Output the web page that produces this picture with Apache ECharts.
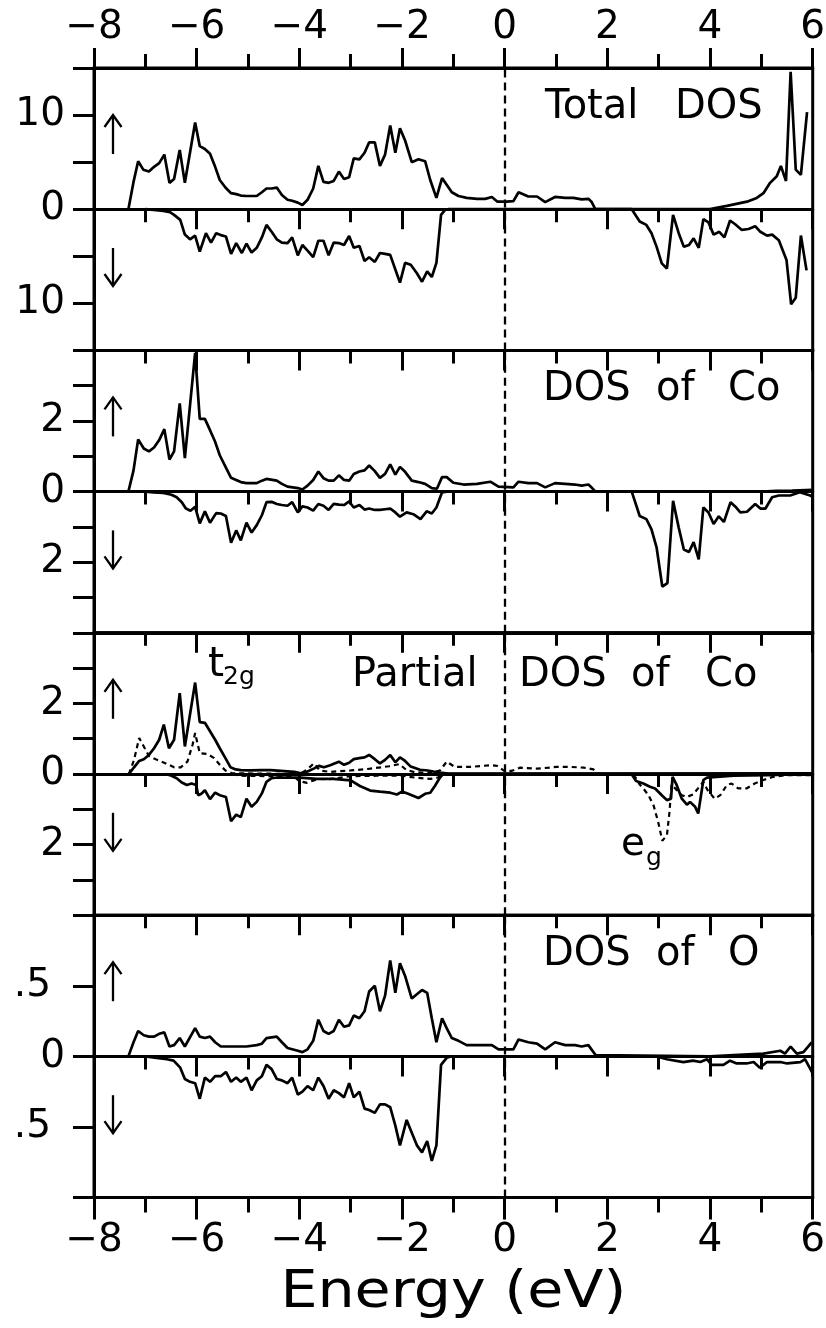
<!DOCTYPE html>
<html><head><meta charset="utf-8">
<script src="https://cdn.jsdelivr.net/npm/echarts/dist/echarts.min.js"></script>
<style>html,body{margin:0;padding:0;background:#fff}#c{width:826px;height:1328px}</style>
</head><body><div id="c"></div><script>
// ---------------- data (energy in eV, DOS values; spin-down stored negative) ----------------
const totalUp = [[-7.33,0],[-7.23,2.9],[-7.14,5.1],[-7.04,4.2],[-6.93,4.0],[-6.83,4.5],[-6.73,4.9],[-6.63,5.8],[-6.53,2.8],[-6.44,3.2],[-6.33,6.3],[-6.23,2.8],[-6.03,9.2],[-5.94,6.7],[-5.84,6.4],[-5.74,5.9],[-5.64,4.5],[-5.55,3.1],[-5.44,2.3],[-5.33,1.7],[-5.23,1.6],[-5.14,1.45],[-5.03,1.4],[-4.83,1.4],[-4.73,1.8],[-4.64,2.2],[-4.54,2.2],[-4.44,2.3],[-4.34,1.5],[-4.23,1.0],[-4.14,0.9],[-4.03,0.7],[-3.94,0.45],[-3.84,1.0],[-3.73,2.2],[-3.63,4.6],[-3.53,2.9],[-3.43,2.8],[-3.33,3.0],[-3.23,4.0],[-3.13,3.2],[-3.03,3.4],[-2.94,5.4],[-2.83,5.3],[-2.73,6.0],[-2.64,7.1],[-2.53,7.1],[-2.43,4.6],[-2.33,5.8],[-2.23,8.9],[-2.13,6.0],[-2.04,8.6],[-1.94,7.3],[-1.81,5.0],[-1.68,5.3],[-1.55,5.1],[-1.45,3.1],[-1.33,1.2],[-1.22,3.3],[-1.13,2.6],[-1.03,1.8],[-0.90,1.4],[-0.74,1.2],[-0.54,1.1],[-0.38,1.1],[-0.25,1.3],[-0.14,0.8],[0.04,0.8],[0.17,0.85],[0.27,1.8],[0.46,1.35],[0.63,1.35],[0.79,0.75],[0.98,1.3],[1.18,1.2],[1.34,1.2],[1.50,1.05],[1.63,1.1],[1.69,0.8],[1.76,0.05],[1.8,0],[4.0,0],[4.33,0.35],[4.72,0.8],[4.91,1.2],[5.04,1.7],[5.17,2.8],[5.30,3.5],[5.38,4.6],[5.48,3.0],[5.57,14.6],[5.67,4.2],[5.77,3.65],[5.89,10.3]];
const totalDown = [[-7.0,0],[-6.84,-0.07],[-6.65,-0.18],[-6.52,-0.32],[-6.44,-0.6],[-6.32,-1.13],[-6.23,-2.7],[-6.13,-3.2],[-6.03,-2.8],[-5.94,-4.5],[-5.82,-2.55],[-5.72,-3.55],[-5.62,-2.55],[-5.53,-2.75],[-5.43,-2.9],[-5.33,-4.75],[-5.23,-3.6],[-5.12,-4.65],[-5.03,-3.65],[-4.93,-4.6],[-4.83,-4.1],[-4.73,-3.0],[-4.64,-1.67],[-4.54,-2.4],[-4.44,-3.2],[-4.34,-3.55],[-4.23,-3.6],[-4.14,-3.0],[-4.03,-4.9],[-3.94,-3.8],[-3.84,-4.4],[-3.73,-5.1],[-3.63,-3.35],[-3.53,-3.35],[-3.43,-4.9],[-3.33,-3.55],[-3.23,-3.6],[-3.13,-3.8],[-3.03,-2.85],[-2.94,-4.1],[-2.83,-3.9],[-2.73,-5.5],[-2.64,-5.1],[-2.53,-5.6],[-2.43,-4.65],[-2.33,-4.75],[-2.23,-4.85],[-2.13,-6.4],[-2.04,-7.8],[-1.94,-5.7],[-1.83,-5.9],[-1.71,-6.8],[-1.61,-7.7],[-1.51,-6.6],[-1.42,-7.2],[-1.33,-5.7],[-1.24,-0.6],[-1.16,-0.07],[-1.09,0],[2.475,0],[2.63,-1.3],[2.76,-1.67],[2.86,-2.55],[2.96,-4.0],[3.06,-5.75],[3.16,-6.3],[3.28,-0.6],[3.39,-2.55],[3.49,-4.0],[3.59,-3.8],[3.68,-3.1],[3.78,-4.1],[3.87,-1.06],[3.97,-1.4],[4.07,-2.7],[4.18,-2.4],[4.28,-3.0],[4.39,-1.2],[4.49,-1.6],[4.62,-2.2],[4.75,-2.1],[4.88,-1.8],[4.98,-2.4],[5.11,-2.8],[5.21,-2.7],[5.34,-3.3],[5.49,-5.4],[5.58,-10.1],[5.67,-9.4],[5.77,-2.8],[5.88,-6.5]];

const coUp = [[-7.33,0],[-7.23,0.6],[-7.14,1.48],[-7.03,1.22],[-6.93,1.14],[-6.83,1.25],[-6.73,1.46],[-6.63,1.77],[-6.53,0.91],[-6.44,1.14],[-6.33,2.5],[-6.23,0.95],[-6.03,3.93],[-5.94,2.06],[-5.84,2.06],[-5.74,1.74],[-5.64,1.41],[-5.55,1.03],[-5.44,0.71],[-5.33,0.39],[-5.23,0.33],[-5.14,0.27],[-5.03,0.24],[-4.83,0.24],[-4.73,0.31],[-4.64,0.36],[-4.44,0.31],[-4.34,0.22],[-4.23,0.14],[-4.03,0.1],[-3.94,0.06],[-3.84,0.17],[-3.73,0.33],[-3.63,0.57],[-3.53,0.38],[-3.43,0.31],[-3.33,0.31],[-3.23,0.46],[-3.13,0.33],[-3.03,0.31],[-2.94,0.5],[-2.83,0.57],[-2.73,0.6],[-2.64,0.74],[-2.53,0.58],[-2.43,0.39],[-2.33,0.5],[-2.23,0.77],[-2.13,0.48],[-2.04,0.7],[-1.94,0.56],[-1.81,0.31],[-1.68,0.27],[-1.55,0.22],[-1.42,0.1],[-1.32,0.08],[-1.22,0.41],[-1.13,0.41],[-1.0,0.25],[-0.80,0.2],[-0.54,0.22],[-0.28,0.28],[-0.12,0.14],[0.17,0.12],[0.27,0.28],[0.46,0.24],[0.63,0.24],[0.79,0.12],[0.98,0.24],[1.18,0.22],[1.37,0.2],[1.50,0.17],[1.63,0.2],[1.69,0.12],[1.77,0],[5.0,0],[5.3,0.02],[5.6,0.03],[6.0,0.05]];
const coDown = [[-7.0,0],[-6.84,-0.02],[-6.65,-0.04],[-6.49,-0.09],[-6.39,-0.16],[-6.29,-0.3],[-6.21,-0.48],[-6.12,-0.54],[-6.03,-0.43],[-5.94,-0.9],[-5.84,-0.56],[-5.74,-0.88],[-5.62,-0.61],[-5.53,-0.62],[-5.43,-0.69],[-5.33,-1.45],[-5.23,-1.1],[-5.14,-1.38],[-5.03,-0.88],[-4.93,-1.16],[-4.83,-0.95],[-4.73,-0.67],[-4.64,-0.3],[-4.54,-0.29],[-4.44,-0.35],[-4.34,-0.38],[-4.23,-0.4],[-4.14,-0.3],[-4.03,-0.59],[-3.94,-0.42],[-3.84,-0.45],[-3.73,-0.54],[-3.63,-0.35],[-3.53,-0.4],[-3.43,-0.52],[-3.33,-0.35],[-3.23,-0.37],[-3.13,-0.38],[-3.03,-0.28],[-2.94,-0.45],[-2.83,-0.38],[-2.73,-0.51],[-2.64,-0.48],[-2.53,-0.52],[-2.43,-0.52],[-2.33,-0.5],[-2.23,-0.48],[-2.13,-0.59],[-2.04,-0.71],[-1.91,-0.59],[-1.78,-0.64],[-1.64,-0.78],[-1.52,-0.56],[-1.42,-0.62],[-1.33,-0.45],[-1.22,-0.02],[-1.13,0],[2.475,0],[2.63,-0.69],[2.76,-0.78],[2.86,-1.07],[2.96,-1.59],[3.07,-2.69],[3.17,-2.59],[3.28,-0.26],[3.39,-1.02],[3.49,-1.64],[3.59,-1.71],[3.68,-1.43],[3.78,-1.92],[3.87,-0.45],[3.97,-0.59],[4.07,-0.92],[4.17,-0.7],[4.27,-0.86],[4.40,-0.3],[4.49,-0.42],[4.59,-0.59],[4.72,-0.57],[4.88,-0.35],[4.98,-0.48],[5.08,-0.48],[5.21,-0.16],[5.34,-0.11],[5.56,-0.11],[5.75,-0.02],[5.95,-0.11],[6.0,-0.16]];

const t2gUp = [[-7.32,0],[-7.22,0.19],[-7.12,0.37],[-7.03,0.42],[-6.93,0.54],[-6.83,0.73],[-6.73,0.97],[-6.64,1.4],[-6.54,0.73],[-6.44,0.97],[-6.33,2.29],[-6.23,0.78],[-6.03,2.59],[-5.94,1.47],[-5.84,1.45],[-5.74,1.21],[-5.64,0.97],[-5.55,0.73],[-5.44,0.45],[-5.34,0.19],[-5.24,0.13],[-5.14,0.11],[-4.95,0.1],[-4.75,0.11],[-4.56,0.11],[-4.36,0.09],[-4.1,0.06],[-3.97,0.02],[-3.84,0.07],[-3.71,0.16],[-3.62,0.23],[-3.52,0.19],[-3.40,0.25],[-3.23,0.35],[-3.13,0.26],[-3.03,0.32],[-2.94,0.42],[-2.83,0.45],[-2.73,0.47],[-2.64,0.54],[-2.53,0.42],[-2.43,0.3],[-2.33,0.4],[-2.23,0.54],[-2.13,0.33],[-2.04,0.47],[-1.94,0.37],[-1.83,0.21],[-1.65,0.12],[-1.5,0.1],[-1.39,0.07],[-1.26,0.04],[-1.1,0.01],[6.0,0.02]];
const egUp = [[-7.32,0],[-7.22,0.4],[-7.12,1.02],[-7.03,0.78],[-6.93,0.51],[-6.77,0.4],[-6.6,0.3],[-6.44,0.19],[-6.31,0.19],[-6.18,0.35],[-6.08,0.83],[-6.03,1.16],[-5.94,0.59],[-5.79,0.57],[-5.66,0.45],[-5.55,0.26],[-5.44,0.1],[-5.31,0.02],[-4.0,0.0],[-3.85,0.12],[-3.72,0.3],[-3.6,0.1],[-3.4,0.06],[-3.0,0.1],[-2.62,0.15],[-2.25,0.22],[-2.05,0.28],[-1.92,0.12],[-1.75,0.05],[-1.45,0.03],[-1.26,0.1],[-1.13,0.35],[-0.97,0.2],[-0.67,0.2],[-0.28,0.25],[-0.15,0.23],[-0.01,0.09],[0.14,0.09],[0.30,0.18],[0.63,0.15],[1.01,0.2],[1.28,0.2],[1.54,0.18],[1.73,0.13],[1.80,0.02],[1.9,0]];
const t2gDown = [[-6.6,0],[-6.49,-0.05],[-6.39,-0.12],[-6.29,-0.24],[-6.19,-0.31],[-6.10,-0.27],[-6.01,-0.31],[-5.97,-0.6],[-5.90,-0.55],[-5.84,-0.46],[-5.74,-0.71],[-5.64,-0.53],[-5.55,-0.6],[-5.43,-0.65],[-5.33,-1.34],[-5.23,-1.15],[-5.14,-1.22],[-5.03,-0.7],[-4.93,-0.93],[-4.83,-0.79],[-4.73,-0.55],[-4.64,-0.22],[-4.54,-0.12],[-4.44,-0.1],[-4.23,-0.1],[-3.99,-0.1],[-3.66,-0.14],[-3.34,-0.14],[-3.0,-0.18],[-2.82,-0.34],[-2.62,-0.47],[-2.43,-0.5],[-2.23,-0.53],[-2.10,-0.58],[-2.0,-0.5],[-1.88,-0.56],[-1.68,-0.68],[-1.55,-0.56],[-1.45,-0.53],[-1.36,-0.34],[-1.26,-0.1],[-1.2,0],[2.47,0],[2.56,-0.2],[2.70,-0.27],[2.83,-0.36],[2.93,-0.41],[3.06,-0.6],[3.16,-0.74],[3.24,-0.7],[3.27,-0.08],[3.35,-0.31],[3.45,-0.7],[3.55,-0.87],[3.61,-0.79],[3.71,-0.93],[3.77,-1.12],[3.87,-0.17],[3.94,-0.1],[4.13,-0.08],[4.46,-0.05],[5.11,-0.03],[6.0,0]];
const egDown = [[-5.3,0],[-5.14,-0.05],[-4.6,-0.06],[-4.12,-0.06],[-4.0,-0.2],[-3.85,-0.25],[-3.72,-0.18],[-3.63,-0.14],[-3.44,-0.15],[-3.27,-0.12],[-3.01,-0.06],[-2.5,-0.05],[-2.0,-0.05],[-1.75,-0.1],[-1.45,-0.14],[-1.3,-0.1],[-1.2,0],[2.45,0],[2.55,-0.1],[2.63,-0.3],[2.70,-0.41],[2.80,-0.6],[2.90,-0.89],[2.99,-1.36],[3.07,-1.89],[3.16,-1.74],[3.21,-1.08],[3.25,-0.3],[3.35,-0.45],[3.45,-0.6],[3.55,-0.65],[3.67,-0.58],[3.77,-0.4],[3.87,-0.22],[3.95,-0.45],[4.09,-0.7],[4.2,-0.6],[4.33,-0.31],[4.42,-0.27],[4.55,-0.41],[4.71,-0.41],[4.87,-0.27],[5.04,-0.17],[5.23,-0.08],[5.49,-0.03],[6.0,-0.03]];

const oUp = [[-7.33,0],[-7.23,0.1],[-7.14,0.18],[-7.03,0.15],[-6.93,0.14],[-6.83,0.14],[-6.73,0.16],[-6.63,0.17],[-6.53,0.07],[-6.44,0.08],[-6.33,0.13],[-6.23,0.07],[-6.03,0.2],[-5.94,0.14],[-5.84,0.13],[-5.74,0.14],[-5.64,0.1],[-5.53,0.07],[-5.03,0.07],[-4.83,0.08],[-4.73,0.09],[-4.64,0.13],[-4.44,0.14],[-4.34,0.1],[-4.23,0.06],[-4.03,0.04],[-3.94,0.03],[-3.84,0.05],[-3.73,0.11],[-3.63,0.26],[-3.53,0.18],[-3.43,0.16],[-3.33,0.18],[-3.23,0.26],[-3.13,0.21],[-3.03,0.22],[-2.94,0.29],[-2.83,0.27],[-2.73,0.32],[-2.64,0.46],[-2.53,0.5],[-2.43,0.32],[-2.33,0.43],[-2.23,0.68],[-2.13,0.45],[-2.04,0.66],[-1.94,0.57],[-1.81,0.41],[-1.61,0.47],[-1.51,0.45],[-1.42,0.27],[-1.33,0.1],[-1.22,0.27],[-1.13,0.2],[-1.03,0.13],[-0.90,0.11],[-0.74,0.08],[-0.25,0.08],[-0.12,0.05],[0.17,0.05],[0.27,0.12],[0.46,0.1],[0.63,0.09],[0.79,0.05],[0.98,0.1],[1.18,0.08],[1.37,0.08],[1.50,0.07],[1.63,0.08],[1.77,0.01],[1.8,0],[4.0,0],[4.46,0.01],[5.04,0.02],[5.37,0.04],[5.46,0.02],[5.57,0.07],[5.69,0.02],[5.82,0.03],[5.98,0.1]];
const oDown = [[-7.0,0],[-6.78,-0.01],[-6.58,-0.02],[-6.45,-0.03],[-6.32,-0.08],[-6.23,-0.16],[-6.13,-0.18],[-6.03,-0.19],[-5.94,-0.3],[-5.84,-0.15],[-5.74,-0.18],[-5.64,-0.14],[-5.53,-0.14],[-5.43,-0.11],[-5.33,-0.18],[-5.23,-0.15],[-5.14,-0.18],[-5.03,-0.15],[-4.93,-0.24],[-4.83,-0.17],[-4.73,-0.14],[-4.64,-0.06],[-4.54,-0.09],[-4.44,-0.16],[-4.34,-0.17],[-4.23,-0.19],[-4.14,-0.15],[-4.03,-0.27],[-3.94,-0.25],[-3.84,-0.21],[-3.73,-0.24],[-3.63,-0.15],[-3.53,-0.21],[-3.43,-0.3],[-3.33,-0.24],[-3.23,-0.26],[-3.13,-0.29],[-3.03,-0.19],[-2.94,-0.29],[-2.83,-0.25],[-2.73,-0.37],[-2.64,-0.38],[-2.53,-0.4],[-2.43,-0.34],[-2.33,-0.34],[-2.23,-0.36],[-2.13,-0.49],[-2.04,-0.63],[-1.91,-0.45],[-1.81,-0.54],[-1.71,-0.63],[-1.61,-0.68],[-1.51,-0.6],[-1.42,-0.74],[-1.33,-0.63],[-1.24,-0.06],[-1.13,-0.01],[-1.05,0],[2.96,0],[3.16,-0.02],[3.48,-0.04],[3.67,-0.03],[3.81,-0.04],[3.94,-0.02],[4.03,-0.06],[4.26,-0.06],[4.39,-0.03],[4.52,-0.05],[4.71,-0.05],[4.85,-0.04],[4.97,-0.08],[5.11,-0.04],[5.37,-0.04],[5.5,-0.05],[5.76,-0.04],[5.85,-0.02],[6.0,-0.12]];

// ---------------- texts and axis settings ----------------
const panelTitles = [['Total','DOS'],['DOS','of','Co'],['Partial','DOS','of','Co'],['DOS','of','O']];
const yRange = [15, 4, 4, 1];
const yStep = [5, 1, 1, 0.5];
const yLabelValue = [10, 2, 2, 0.5];
const yLabelText = ['10', '2', '2', '.5'];
const xRange = [-8, 6];
const xStep = 2;
const xAxisName = 'Energy (eV)';

// ---------------- layout ----------------
const FONT = 'DejaVu Sans';
const L = 94, W = 718.7, T0 = 68, PH = 282.4;
const titleX = [[545,675],[543,656,728],[352,519,631,705],[543,656,728]];
const titleDY = [39.5,39,43,39];
const BLACK = '#000';
const TICKFONT = 39;

const panelSeries = [
  [{d: totalUp}, {d: totalDown}],
  [{d: coUp}, {d: coDown}],
  [{d: t2gUp}, {d: egUp, dash: true}, {d: t2gDown}, {d: egDown, dash: true}],
  [{d: oUp}, {d: oDown}]
];

const fmtX = v => (v < 0 ? '\u2212' : '') + Math.abs(v);
const lineSt = w => ({color: BLACK, width: w});

const grids = [], xAxes = [], yAxes = [], series = [], graphics = [];
panelSeries.forEach((ps, i) => {
  const top = T0 + i * PH;
  grids.push({left: L, top: top, width: W, height: PH, show: true, borderColor: BLACK, borderWidth: 3,
              backgroundColor: 'transparent', containLabel: false, outerBoundsMode: 'none'});
  const base = {gridIndex: i, type: 'value', min: xRange[0], max: xRange[1], interval: xStep,
                splitLine: {show: false}, minorSplitLine: {show: false}};
  // axis along y = 0 (ticks pointing down)
  const zeroIdx = xAxes.length;
  xAxes.push(Object.assign({}, base, {position: 'bottom',
    axisLine: {show: true, onZero: true, lineStyle: lineSt(3)},
    axisTick: {show: true, inside: false, length: 20, lineStyle: lineSt(3)},
    minorTick: {show: true, splitNumber: 2, length: 13, lineStyle: lineSt(3)},
    axisLabel: {show: false}}));
  // top border axis
  xAxes.push(Object.assign({}, base, {position: 'top',
    axisLine: {show: true, onZero: false, lineStyle: lineSt(3)},
    axisTick: {show: true, inside: i > 0, length: 20, lineStyle: lineSt(3)},
    minorTick: {show: true, splitNumber: 2, length: i > 0 ? 13 : 14, lineStyle: lineSt(3)},
    axisLabel: {show: i === 0, margin: 21, fontSize: TICKFONT, fontFamily: FONT, color: BLACK,
                formatter: fmtX, showMinLabel: true, showMaxLabel: true}}));
  if (i === panelSeries.length - 1) {
    xAxes.push(Object.assign({}, base, {position: 'bottom',
      axisLine: {show: true, onZero: false, lineStyle: lineSt(3)},
      axisTick: {show: true, inside: false, length: 22, lineStyle: lineSt(3)},
      minorTick: {show: true, splitNumber: 2, length: 15, lineStyle: lineSt(3)},
      axisLabel: {show: true, margin: 24, fontSize: TICKFONT, fontFamily: FONT, color: BLACK,
                  formatter: fmtX, showMinLabel: true, showMaxLabel: true}}));
  }
  yAxes.push({gridIndex: i, type: 'value', min: -yRange[i], max: yRange[i], interval: yStep[i], position: 'left',
    axisLine: {show: true, onZero: false, lineStyle: lineSt(3)},
    axisTick: {show: true, inside: false, length: 21, lineStyle: lineSt(3)},
    splitLine: {show: false},
    axisLabel: {show: true, margin: 29, fontSize: TICKFONT, fontFamily: FONT, color: BLACK,
      rich: {s: {fontSize: TICKFONT, fontFamily: FONT, color: BLACK, padding: [0, 14, 0, 0]}},
      formatter: v => {
        if (Math.abs(v) < 1e-9) return '0';
        if (Math.abs(Math.abs(v) - yLabelValue[i]) < 1e-9) {
          const t = yLabelText[i];
          return t.charAt(0) === '.' ? '{s|' + t + '}' : t;
        }
        return '';
      }}});
  ps.forEach((s, k) => {
    const ser = {type: 'line', xAxisIndex: zeroIdx, yAxisIndex: i, data: s.d, symbol: 'none', showSymbol: false,
      lineStyle: {color: BLACK, width: s.dash ? 2.2 : 2.7, type: s.dash ? [5, 4] : 'solid'},
      clip: true, animation: false, silent: true, z: 3};
    if (k === 0) {
      ser.markLine = {silent: true, symbol: ['none', 'none'], animation: false, label: {show: false},
        lineStyle: {color: BLACK, width: 2.3, type: [8, 5]}, data: [{xAxis: 0}]};
    }
    series.push(ser);
  });
  // titles
  panelTitles[i].forEach((w, k) => {
    graphics.push({type: 'text', x: titleX[i][k], y: top + titleDY[i], silent: true,
      style: {text: w, fontSize: 40, fontFamily: FONT, fill: BLACK, textAlign: 'left', align: 'left',
              textVerticalAlign: 'middle', verticalAlign: 'middle'}});
  });
  // spin arrows
  const ax = 113;
  graphics.push({type: 'polyline', silent: true, shape: {points: [[ax, top + 86], [ax, top + 47]]}, style: {stroke: BLACK, lineWidth: 2.3, fill: null}});
  graphics.push({type: 'polyline', silent: true, shape: {points: [[ax - 8.5, top + 59], [ax, top + 47], [ax + 8.5, top + 59]]}, style: {stroke: BLACK, lineWidth: 2.3, fill: null}});
  graphics.push({type: 'polyline', silent: true, shape: {points: [[ax, top + 180], [ax, top + 218]]}, style: {stroke: BLACK, lineWidth: 2.3, fill: null}});
  graphics.push({type: 'polyline', silent: true, shape: {points: [[ax - 8.5, top + 206], [ax, top + 218], [ax + 8.5, top + 206]]}, style: {stroke: BLACK, lineWidth: 2.3, fill: null}});
});

// orbital labels in the partial DOS panel
const txt = (t, x, y, size) => ({type: 'text', x: x, y: y, silent: true,
  style: {text: t, fontSize: size, fontFamily: FONT, fill: BLACK, textAlign: 'left', align: 'left',
          textVerticalAlign: 'middle', verticalAlign: 'middle'}});
graphics.push(txt('t', 208, 665, 41));
graphics.push(txt('2g', 223, 677, 25));
graphics.push(txt('e', 621, 845, 39));
graphics.push(txt('g', 646, 858, 25));

// x-axis title, centred under the plot area
graphics.push({type: 'text', x: L + W / 2, y: 1294, scaleX: 1.15, silent: true,
  style: {text: xAxisName, fontSize: 51, fontFamily: FONT, fill: BLACK, textAlign: 'center', align: 'center',
          textVerticalAlign: 'middle', verticalAlign: 'middle'}});

const chart = echarts.init(document.getElementById('c'), null, {renderer: 'canvas'});
chart.setOption({
  backgroundColor: '#fff',
  animation: false,
  grid: grids, xAxis: xAxes, yAxis: yAxes, series: series, graphic: graphics
});
</script></body></html>
